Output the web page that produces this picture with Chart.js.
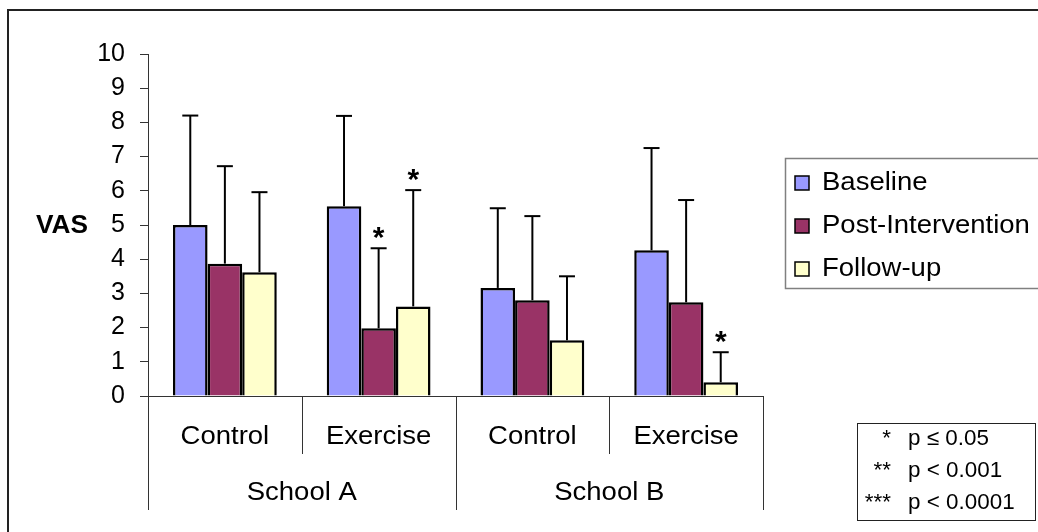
<!DOCTYPE html>
<html>
<head>
<meta charset="utf-8">
<script src="https://cdn.jsdelivr.net/npm/chart.js@4/dist/chart.umd.min.js"></script>
<style>
  body { margin: 0; background: #fff; }
  canvas { display: block; }
</style>
</head>
<body>
<canvas id="chart" width="1038" height="532"></canvas>
<script>
// data
const groups = ['Control', 'Exercise', 'Control', 'Exercise'];
const schools = ['School A', 'School B'];
const seriesNames = ['Baseline', 'Post-Intervention', 'Follow-up'];
const yTicks = [0, 1, 2, 3, 4, 5, 6, 7, 8, 9, 10];

const baseline = [5.0, 5.55, 3.16, 4.26];
const postIntervention = [3.87, 1.98, 2.8, 2.74];
const followUp = [3.62, 2.62, 1.63, 0.4];

const baselineSd = [3.2, 2.64, 2.33, 2.99];
const postInterventionSd = [2.85, 2.34, 2.46, 2.99];
const followUpSd = [2.34, 3.4, 1.87, 0.88];

const baselineSig = ['', '', '', ''];
const postInterventionSig = ['', '*', '', ''];
const followUpSig = ['', '*', '', '*'];

const pKey = [['*', 'p \u2264 0.05'], ['**', 'p < 0.001'], ['***', 'p < 0.0001']];

const colors = ['#9999FF', '#993366', '#FFFFCC'];
const FONT = '"Liberation Sans", Arial, sans-serif';
const SX = 1.1; // text in the original is a bit wide

const sds = [baselineSd, postInterventionSd, followUpSd];
const sigs = [baselineSig, postInterventionSig, followUpSig];

function wideText(ctx, text, x, y, align, sx) {
  ctx.save();
  ctx.translate(x, y);
  ctx.scale(sx || SX, 1);
  ctx.textAlign = align;
  ctx.textBaseline = 'middle';
  ctx.fillText(text, 0, 0);
  ctx.restore();
}

function line(ctx, x1, y1, x2, y2) {
  ctx.beginPath();
  ctx.moveTo(x1, y1);
  ctx.lineTo(x2, y2);
  ctx.stroke();
}

const extras = {
  id: 'extras',
  afterDatasetsDraw(chart) {
    const ctx = chart.ctx;
    const y = chart.scales.y;
    ctx.save();
    chart.data.datasets.forEach((ds, di) => {
      const meta = chart.getDatasetMeta(di);
      meta.data.forEach((bar, i) => {
        const top = y.getPixelForValue(ds.data[i] + sds[di][i]);
        ctx.strokeStyle = '#000';
        ctx.lineWidth = 2;
        line(ctx, bar.x, bar.y, bar.x, top);
        line(ctx, bar.x - 8, top, bar.x + 8, top);
        if (sigs[di][i]) {
          ctx.fillStyle = '#000';
          ctx.font = 'bold 30px ' + FONT;
          ctx.textAlign = 'center';
          ctx.textBaseline = 'alphabetic';
          ctx.fillText(sigs[di][i], bar.x, top - 1);
        }
      });
    });
    ctx.restore();
  },
  afterDraw(chart) {
    const ctx = chart.ctx;
    const area = chart.chartArea;
    const x = chart.scales.x;
    ctx.save();

    // outer frame
    ctx.strokeStyle = '#222';
    ctx.lineWidth = 2;
    ctx.strokeRect(8, 10, 1200, 700);

    // y title
    ctx.fillStyle = '#000';
    ctx.font = 'bold 25px ' + FONT;
    wideText(ctx, 'VAS', 88, 226, 'right', 1.05);

    // grouped x axis
    const n = groups.length;
    const step = (area.right - area.left) / n;
    ctx.strokeStyle = '#333';
    ctx.lineWidth = 1;
    for (let i = 0; i <= n; i++) {
      const bx = Math.round(area.left + i * step) + 0.5;
      line(ctx, bx, area.bottom, bx, area.bottom + (i % 2 === 0 ? 114 : 58));
    }
    ctx.fillStyle = '#000';
    ctx.font = '25px ' + FONT;
    groups.forEach((g, i) => {
      wideText(ctx, g, x.getPixelForValue(i), 437, 'center');
    });
    schools.forEach((s, i) => {
      const cx = (x.getPixelForValue(2 * i) + x.getPixelForValue(2 * i + 1)) / 2;
      wideText(ctx, s, cx, 493, 'center');
    });

    // legend (its right side runs off the picture)
    ctx.strokeStyle = '#808080';
    ctx.lineWidth = 1.5;
    ctx.strokeRect(785.5, 158.5, 400, 130);
    seriesNames.forEach((name, i) => {
      const cy = 183 + i * 43;
      ctx.fillStyle = colors[i];
      ctx.fillRect(795, cy - 7, 14, 14);
      ctx.strokeStyle = '#000';
      ctx.lineWidth = 1.5;
      ctx.strokeRect(795, cy - 7, 14, 14);
      ctx.fillStyle = '#000';
      ctx.font = '25px ' + FONT;
      wideText(ctx, name, 822, cy, 'left');
    });

    // p-value key
    ctx.strokeStyle = '#222';
    ctx.lineWidth = 1;
    ctx.strokeRect(857.5, 423.5, 178, 97);
    ctx.font = '22px ' + FONT;
    ctx.fillStyle = '#000';
    pKey.forEach((row, i) => {
      const cy = 439 + i * 32;
      wideText(ctx, row[0], 891, cy, 'right', 1.02);
      wideText(ctx, row[1], 908, cy, 'left', 1.02);
    });
    ctx.restore();
  }
};

new Chart(document.getElementById('chart'), {
  type: 'bar',
  data: {
    labels: groups,
    datasets: [
      { label: seriesNames[0], data: baseline, backgroundColor: colors[0] },
      { label: seriesNames[1], data: postIntervention, backgroundColor: colors[1] },
      { label: seriesNames[2], data: followUp, backgroundColor: colors[2] }
    ].map(d => Object.assign(d, {
      borderColor: '#000',
      borderWidth: 2.5,
      categoryPercentage: 0.675,
      barPercentage: 1.0
    }))
  },
  options: {
    responsive: false,
    animation: false,
    layout: { padding: { top: 54, right: 275, left: 0, bottom: 0 } },
    plugins: { legend: { display: false }, tooltip: { enabled: false } },
    scales: {
      x: {
        grid: { display: false, drawTicks: false },
        border: { display: true, color: '#333', width: 1 },
        ticks: { display: false },
        afterFit(scale) { scale.height = 136; }
      },
      y: {
        min: 0,
        max: 10,
        afterBuildTicks(scale) { scale.ticks = yTicks.map(v => ({ value: v })); },
        grid: { drawOnChartArea: false, tickLength: 8, color: '#333' },
        border: { display: true, color: '#333', width: 1 },
        ticks: {
          color: '#000',
          padding: 15,
          font: { family: FONT, size: 25 }
        },
        afterFit(scale) { scale.width = 148; }
      }
    }
  },
  plugins: [extras]
});
</script>
</body>
</html>
